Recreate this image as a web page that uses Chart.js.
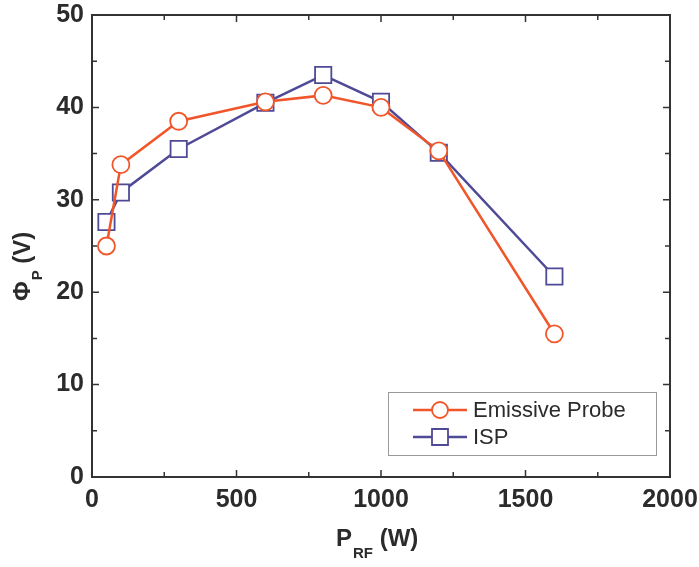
<!DOCTYPE html>
<html>
<head>
<meta charset="utf-8">
<script src="https://cdn.jsdelivr.net/npm/chart.js@4.4.1/dist/chart.umd.min.js"></script>
<style>
  body { margin: 0; background: #fff; }
  #wrap { width: 699px; height: 567px; }
</style>
</head>
<body>
<div id="wrap"><canvas id="chart" width="699" height="567"></canvas></div>
<script>
// Datos
const powerRF = [50, 100, 300, 600, 800, 1000, 1200, 1600];
const emissiveProbe = [25.0, 33.8, 38.5, 40.6, 41.3, 40.0, 35.3, 15.5];
const ispValues = [27.6, 30.8, 35.5, 40.5, 43.5, 40.6, 35.1, 21.7];
const xTicks = [0, 500, 1000, 1500, 2000];
const yTicks = [0, 10, 20, 30, 40, 50];

const orange = '#f0562a';
const blue = '#4f4a96';
const axisColor = '#333';
const textColor = '#2b2b2b';

const toPoints = (ys) => powerRF.map((x, i) => ({ x: x, y: ys[i] }));

// Marcos, ticks interiores, títulos de ejes y leyenda
const framePlugin = {
    id: 'frame',
    afterDraw(chart) {
        const { ctx, chartArea: a, scales } = chart;
        ctx.save();
        ctx.strokeStyle = axisColor;
        ctx.lineWidth = 2;
        ctx.strokeRect(a.left, a.top, a.right - a.left, a.bottom - a.top);

        ctx.lineWidth = 1.5;
        ctx.beginPath();
        for (let v = 0; v <= 2000; v += 250) {
            const px = scales.x.getPixelForValue(v);
            const len = v % 500 === 0 ? 7 : 5;
            ctx.moveTo(px, a.bottom); ctx.lineTo(px, a.bottom - len);
            ctx.moveTo(px, a.top); ctx.lineTo(px, a.top + len);
        }
        for (let v = 0; v <= 50; v += 5) {
            const py = scales.y.getPixelForValue(v);
            const len = v % 10 === 0 ? 7 : 5;
            ctx.moveTo(a.left, py); ctx.lineTo(a.left + len, py);
            ctx.moveTo(a.right, py); ctx.lineTo(a.right - len, py);
        }
        ctx.stroke();

        // Título eje X: P_RF (W)
        ctx.fillStyle = textColor;
        ctx.textBaseline = 'alphabetic';
        ctx.textAlign = 'left';
        const big = 'bold 24px "Liberation Sans", Arial, sans-serif';
        const small = 'bold 15px "Liberation Sans", Arial, sans-serif';
        let sx = 336;
        const by = 546;
        ctx.font = big; ctx.fillText('P', sx, by); sx += ctx.measureText('P').width + 1;
        ctx.font = small; ctx.fillText('RF', sx, by + 12); sx += ctx.measureText('RF').width;
        ctx.font = big; ctx.fillText(' (W)', sx, by);

        // Título eje Y: Φ_P (V)
        ctx.save();
        ctx.translate(30, 301);
        ctx.rotate(-Math.PI / 2);
        let sy = 0;
        ctx.font = big; ctx.fillText('Φ', sy, 0); sy += ctx.measureText('Φ').width + 1;
        ctx.font = small; ctx.fillText('P', sy, 12); sy += ctx.measureText('P').width;
        ctx.font = big; ctx.fillText(' (V)', sy, 0);
        ctx.restore();

        // Leyenda con recuadro
        const lx = 388, ly = 392, lw = 268, lh = 63;
        ctx.strokeStyle = '#999';
        ctx.lineWidth = 1;
        ctx.strokeRect(lx + 0.5, ly + 0.5, lw, lh);
        chart.data.datasets.forEach((ds, i) => {
            const yy = ly + 18 + i * 27;
            ctx.strokeStyle = ds.borderColor;
            ctx.lineWidth = 2.5;
            ctx.beginPath();
            ctx.moveTo(413, yy); ctx.lineTo(467, yy);
            ctx.stroke();
            ctx.fillStyle = '#fff';
            ctx.lineWidth = 1.8;
            ctx.beginPath();
            if (ds.pointStyle === 'circle') {
                ctx.arc(440, yy, 8, 0, Math.PI * 2);
            } else {
                ctx.rect(432, yy - 8, 16, 16);
            }
            ctx.fill();
            ctx.stroke();
            ctx.fillStyle = textColor;
            ctx.font = '22px "Liberation Sans", Arial, sans-serif';
            ctx.textBaseline = 'middle';
            ctx.fillText(ds.label, 473, yy + 1);
        });
        ctx.restore();
    }
};

const tickFont = { family: '"Liberation Sans", Arial, sans-serif', size: 25, weight: 'bold' };

new Chart(document.getElementById('chart'), {
    type: 'line',
    data: {
        datasets: [
            {
                label: 'Emissive Probe',
                data: toPoints(emissiveProbe),
                borderColor: orange,
                backgroundColor: '#fff',
                borderWidth: 2.5,
                pointStyle: 'circle',
                pointRadius: 8.5,
                pointBorderWidth: 1.8,
                pointBackgroundColor: '#fff'
            },
            {
                label: 'ISP',
                data: toPoints(ispValues),
                borderColor: blue,
                backgroundColor: '#fff',
                borderWidth: 2.5,
                pointStyle: 'rect',
                pointRadius: 11.5,
                pointBorderWidth: 1.8,
                pointBackgroundColor: '#fff'
            }
        ]
    },
    options: {
        responsive: false,
        animation: false,
        layout: { padding: { top: 15, right: 29, left: 0, bottom: 0 } },
        plugins: { legend: { display: false }, tooltip: { enabled: false } },
        scales: {
            x: {
                type: 'linear',
                min: 0, max: 2000,
                afterBuildTicks: (s) => { s.ticks = xTicks.map(v => ({ value: v })); },
                afterFit: (s) => { s.height = 90; },
                grid: { display: false },
                border: { display: false },
                ticks: { font: tickFont, color: textColor, padding: 0, maxRotation: 0, callback: (v) => String(v) }
            },
            y: {
                min: 0, max: 50,
                afterBuildTicks: (s) => { s.ticks = yTicks.map(v => ({ value: v })); },
                afterFit: (s) => { s.width = 92; },
                grid: { display: false },
                border: { display: false },
                ticks: { font: tickFont, color: textColor, padding: 0 }
            }
        }
    },
    plugins: [framePlugin]
});
</script>
</body>
</html>
